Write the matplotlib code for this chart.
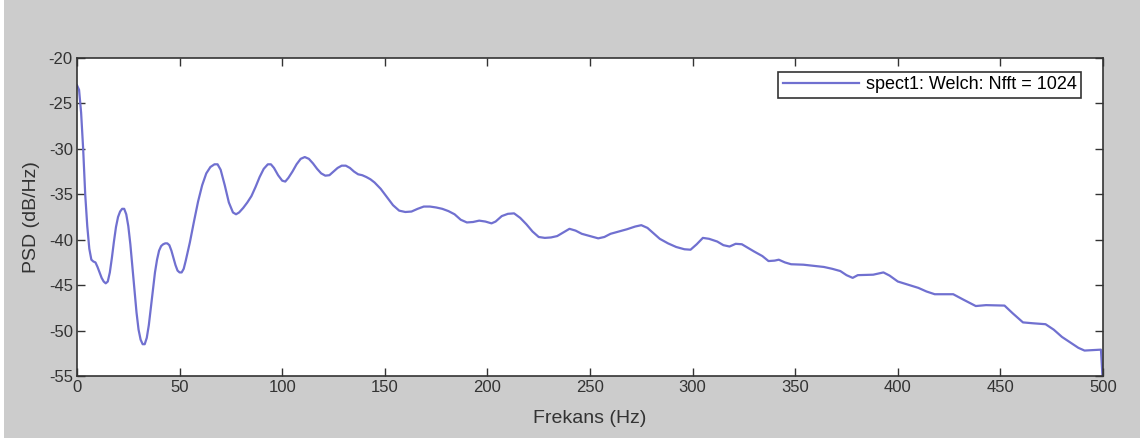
import matplotlib
matplotlib.use("Agg")
import matplotlib.pyplot as plt
from matplotlib.patches import Rectangle

# PSD estimate (Hz, dB/Hz)
freq = [0, 1, 2, 3, 4, 5, 6, 7, 8, 9, 10, 11, 12, 13, 14, 15, 16, 17, 18, 19, 20,
        21, 22, 23, 24, 25, 26, 27, 28, 29, 30, 31, 32, 33, 34, 35, 36, 37, 38, 39,
        40, 41, 42, 43, 44, 45, 46, 47, 48, 49, 50, 51, 52, 53, 55, 57, 59, 61, 63,
        65, 67, 68.5, 70, 72, 74, 76, 77.5, 79, 81, 83, 85, 87, 89, 91, 93, 94.5,
        96, 98, 100, 101.5, 103, 105, 107, 109, 111, 113, 115, 117, 119, 121, 123,
        125, 127, 129, 131, 133, 135, 137, 139, 141, 143, 145, 148, 151, 154, 157,
        160, 163, 166, 169, 172, 175, 178, 181, 184, 187, 190, 193, 196, 199, 202,
        204, 207, 210, 213, 216, 219, 222, 225, 228, 231, 234, 237, 240, 243, 246,
        250, 254, 257, 260, 264, 268, 272, 275, 278, 281, 284, 288, 292, 296, 299,
        302, 305, 308, 312, 315, 318, 321, 324, 327, 330, 334, 337, 340, 342, 345,
        348, 354, 360, 364, 368, 372, 375, 378, 380.5, 388, 393, 396, 400, 405, 410,
        414, 418, 427, 432, 438, 443, 452, 456, 461, 466, 472, 476, 480, 484, 488,
        491, 499, 500]
psd = [-23.0, -23.5, -26.0, -30.0, -35.0, -38.5, -41.0, -42.2, -42.4, -42.5, -43.0,
       -43.6, -44.2, -44.6, -44.8, -44.6, -43.6, -42.0, -40.2, -38.6, -37.5, -36.9,
       -36.6, -36.6, -37.2, -38.5, -40.5, -43.0, -45.6, -48.0, -49.9, -51.0, -51.5,
       -51.5, -50.8, -49.4, -47.5, -45.5, -43.6, -42.2, -41.2, -40.7, -40.5, -40.4,
       -40.4, -40.6, -41.2, -42.0, -42.8, -43.4, -43.6, -43.6, -43.2, -42.3, -40.3,
       -38.0, -35.8, -34.0, -32.7, -32.0, -31.7, -31.7, -32.3, -34.0, -35.9, -37.0,
       -37.2, -37.0, -36.5, -35.9, -35.2, -34.2, -33.1, -32.2, -31.7, -31.7, -32.1,
       -32.9, -33.5, -33.6, -33.2, -32.5, -31.7, -31.1, -30.9, -31.1, -31.6, -32.2,
       -32.7, -32.95, -32.9, -32.5, -32.1, -31.85, -31.85, -32.1, -32.5, -32.8, -32.9,
       -33.1, -33.35, -33.7, -34.4, -35.3, -36.2, -36.8, -36.95, -36.9, -36.6, -36.35,
       -36.35, -36.45, -36.6, -36.85, -37.2, -37.8, -38.1, -38.05, -37.9, -38.0, -38.2,
       -38.0, -37.4, -37.15, -37.1, -37.6, -38.3, -39.1, -39.7, -39.8, -39.75, -39.6,
       -39.2, -38.8, -39.0, -39.35, -39.6, -39.85, -39.7, -39.35, -39.1, -38.85, -38.55,
       -38.4, -38.7, -39.3, -39.9, -40.4, -40.8, -41.05, -41.1, -40.5, -39.8, -39.9,
       -40.2, -40.6, -40.75, -40.45, -40.5, -40.9, -41.3, -41.8, -42.35, -42.3, -42.2,
       -42.5, -42.7, -42.75, -42.9, -43.0, -43.2, -43.45, -43.9, -44.2, -43.9, -43.85,
       -43.6, -43.95, -44.6, -44.95, -45.3, -45.7, -46.0, -46.0, -46.6, -47.3, -47.2,
       -47.25, -48.1, -49.1, -49.2, -49.3, -49.9, -50.7, -51.3, -51.9, -52.2, -52.1,
       -56.0]

legend_label = "spect1: Welch: Nfft = 1024"
xticks = list(range(0, 501, 50))
yticks = list(range(-55, -19, 5))

plt.rcParams["font.family"] = ["Liberation Sans", "DejaVu Sans"]
plt.rcParams["axes.unicode_minus"] = False

fig = plt.figure(figsize=(11.4, 4.41), dpi=100, facecolor="white")
# grey window background with a thin white strip at left/bottom
fig.patches.append(Rectangle((4 / 1140, 3 / 441), 1, 1, transform=fig.transFigure,
                             facecolor="#cccccc", edgecolor="none", zorder=-10))

ax = fig.add_axes([77 / 1140, 1 - 376 / 441, 1026 / 1140, 318 / 441])
ax.plot(freq, psd, color="#7070d0", linewidth=1.6, label=legend_label)

ax.set_xlim(0, 500)
ax.set_ylim(-55, -20)
ax.set_xticks(xticks)
ax.set_yticks(yticks)
ax.tick_params(direction="in", length=6, width=1, top=True, right=True,
               labelsize=12, colors="#333333", pad=3)
for s in ax.spines.values():
    s.set_color("#333333")
    s.set_linewidth(1.2)

ax.set_xlabel("Frekans (Hz)", fontsize=14, color="#333333", labelpad=11)
ax.set_ylabel("PSD (dB/Hz)", fontsize=14, color="#333333", labelpad=6)

leg = ax.legend(loc="upper right", fontsize=13, fancybox=False, framealpha=1,
                edgecolor="#333333", borderpad=0.25, handlelength=4.2,
                handletextpad=0.4, bbox_to_anchor=(0.9875, 0.985))
leg.get_frame().set_linewidth(1.2)

fig.savefig("out.png", dpi=100, facecolor=fig.get_facecolor())
